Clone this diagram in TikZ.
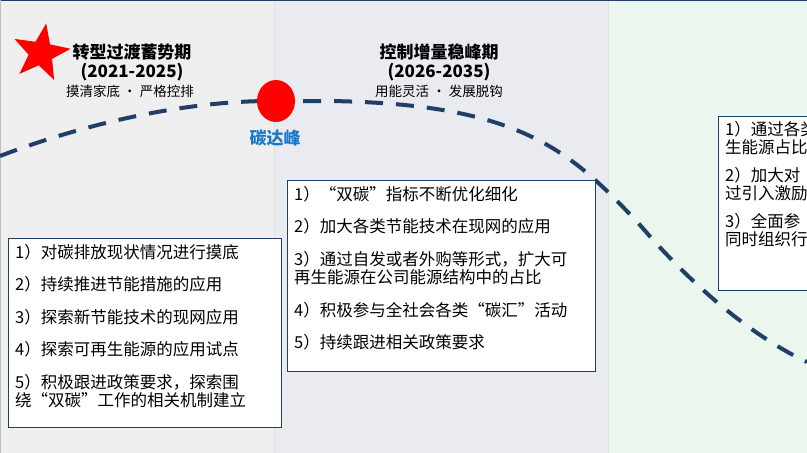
\documentclass[tikz,border=0pt]{standalone}
\usepackage{fontspec}
\setmainfont{Noto Sans CJK SC}
\usetikzlibrary{shapes.geometric}
\definecolor{navy}{HTML}{1F3F66}
\definecolor{bgA}{HTML}{EFEFF0}
\definecolor{bgB}{HTML}{EAEAF1}
\definecolor{bgC}{HTML}{EAF6EE}
\definecolor{peak}{HTML}{1777C8}
\tikzset{
 x=1pt,y=-1pt,
 itembox/.style={draw=navy,line width=0.8pt,fill=white,inner sep=0pt},
 itemtxt/.style={anchor=north west,inner sep=0pt},
 ttl/.style={font=\bfseries\fontsize{17}{19}\selectfont,align=center,inner sep=0pt},
 sub/.style={font=\fontsize{13.5}{15}\selectfont,inner sep=0pt}
}
\newcommand{\itemfont}{\fontsize{16.5}{18.5}\selectfont}
\begin{document}
\begin{tikzpicture}
\useasboundingbox (0,0) rectangle (807,453);
\fill[bgA] (0,0) rectangle (274,453);
\fill[bgB] (274,0) rectangle (608,453);
\fill[bgC] (608,0) rectangle (807,453);
\draw[black!12,line width=1pt] (274,0)--(274,453) (608,0)--(608,453);
\draw[navy,line width=1.5pt] (0,0.5)--(807,0.5);
\draw[black!25] (0.5,0)--(0.5,453);
% curve
\draw[navy,line width=4pt,dash pattern=on 18pt off 13pt]
 (0,156) .. controls (100,118) and (200,100) .. (278,101)
 -- (330,101) .. controls (520,104) and (570,150) .. (640,225)
 .. controls (700,295) and (760,340) .. (807,362);
% star
\node[star,star points=5,star point ratio=2.4,fill=red,minimum size=60pt,inner sep=0pt,rotate=-10] (star) at (41,53) {};
\node[ellipse,fill=red,minimum width=38pt,minimum height=42pt,inner sep=0pt] (dot) at (276,101) {};
\node[font=\bfseries\fontsize{17}{19}\selectfont,text=peak,inner sep=0pt] (peaklbl) at (275,138) {碳达峰};
% titles
\node[ttl] (t1) at (132,62) {转型过渡蓄势期\\(2021-2025)};
\node[sub] (s1) at (130,91) {摸清家底 · 严格控排};
\node[ttl] (t2) at (439,62) {控制增量稳峰期\\(2026-2035)};
\node[sub] (s2) at (439,91) {用能灵活 · 发展脱钩};
% boxes
\filldraw[itembox] (8,238) rectangle (281,427);
\node[itemtxt] (b1) at (15,244) {\begin{minipage}{264pt}\itemfont
\setlength{\parskip}{14pt}
1）对碳排放现状情况进行摸底\par
2）持续推进节能措施的应用\par
3）探索新节能技术的现网应用\par
4）探索可再生能源的应用试点\par
5）积极跟进政策要求，探索围\\绕“双碳”工作的相关机制建立
\end{minipage}};
\filldraw[itembox] (287,180) rectangle (595,371);
\node[itemtxt] (b2) at (294,186) {\begin{minipage}{300pt}\itemfont
\setlength{\parskip}{14pt}
1）“双碳”指标不断优化细化\par
2）加大各类节能技术在现网的应用\par
3）通过自发或者外购等形式，扩大可\\再生能源在公司能源结构中的占比\par
4）积极参与全社会各类“碳汇”活动\par
5）持续跟进相关政策要求
\end{minipage}};
\begin{scope}
\clip (0,0) rectangle (807,453);
\filldraw[itembox] (718,116) rectangle (830,290);
\node[itemtxt] (b3) at (725,121) {\begin{minipage}{300pt}\itemfont
\setlength{\parskip}{9pt}
1）通过各类\\生能源占比\par
2）加大对\\过引入激励\par
3）全面参\\同时组织行
\end{minipage}};
\end{scope}
\end{tikzpicture}
\end{document}
